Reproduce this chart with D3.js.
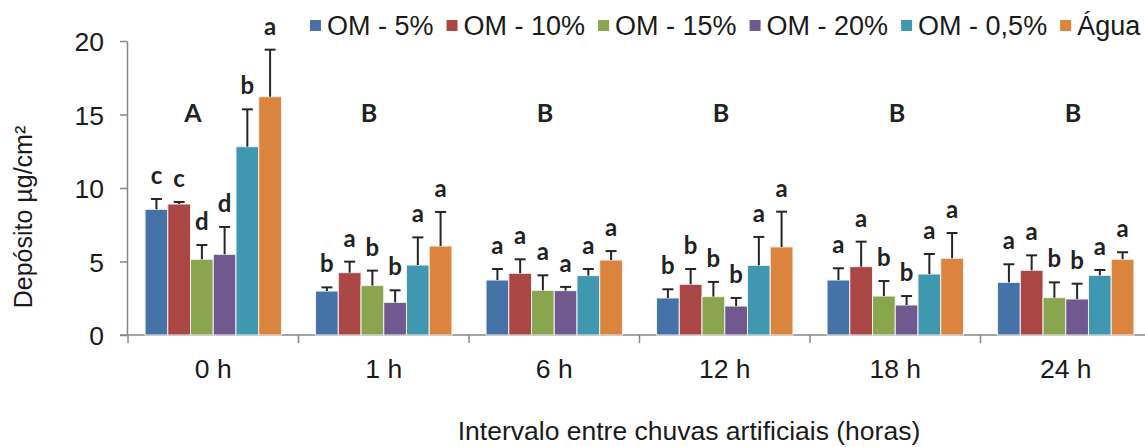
<!DOCTYPE html>
<html lang="pt">

<head>
    <meta charset="UTF-8">
    <title>Depósito por intervalo entre chuvas</title>
    <script src="https://d3js.org/d3.v7.min.js"></script>
    <style>
        html,
        body {
            margin: 0;
            padding: 0;
            background: #ffffff;
            overflow: hidden;
        }

        svg text {
            font-family: "Liberation Sans", Arial, sans-serif;
            fill: #1a1a1a;
        }

        .axis path,
        .axis line {
            stroke: #868686;
            stroke-width: 1.5;
        }

        .letter {
            font-family: Lato, "Open Sans", sans-serif !important;
            font-weight: 700;
            fill: #222222;
        }
    </style>
</head>

<body>
    <svg id="chart" width="1145" height="447"></svg>

    <script>
        const intervals = ["0 h", "1 h", "6 h", "12 h", "18 h", "24 h"];
        const series = ["OM - 5%", "OM - 10%", "OM - 15%", "OM - 20%", "OM - 0,5%", "Água"];
        const colors = ["#4572a7", "#aa4643", "#89a54e", "#71588f", "#3f98b0", "#db843d"];

        // mean deposit per interval (rows) and treatment (columns)
        const means = [
            [8.55, 8.91, 5.15, 5.49, 12.81, 16.21],
            [2.99, 4.24, 3.36, 2.22, 4.76, 6.05],
            [3.74, 4.20, 3.04, 3.02, 4.04, 5.10],
            [2.52, 3.45, 2.61, 1.97, 4.74, 5.99],
            [3.74, 4.65, 2.65, 2.04, 4.15, 5.22],
            [3.58, 4.40, 2.54, 2.45, 4.06, 5.15]
        ];
        // upper error (standard deviation)
        const errors = [
            [0.70, 0.14, 0.97, 1.86, 2.54, 3.20],
            [0.25, 0.75, 1.02, 0.82, 1.88, 2.32],
            [0.75, 0.95, 1.02, 0.25, 0.45, 0.61],
            [0.59, 1.04, 1.00, 0.55, 1.93, 2.40],
            [0.80, 1.70, 1.02, 0.61, 1.36, 1.72],
            [1.23, 1.02, 1.04, 1.04, 0.36, 0.48]
        ];
        const letters = [
            ["c", "c", "d", "d", "b", "a"],
            ["b", "a", "b", "b", "a", "a"],
            ["a", "a", "a", "a", "a", "a"],
            ["b", "b", "b", "b", "a", "a"],
            ["a", "a", "b", "b", "a", "a"],
            ["a", "a", "b", "b", "a", "a"]
        ];
        const groupLetters = ["A", "B", "B", "B", "B", "B"];
        const yTicks = [0, 5, 10, 15, 20];

        const svg = d3.select("#chart");

        const x0 = d3.scaleBand()
            .domain(intervals)
            .range([128, 1151])
            .padding(0);

        const x1 = d3.scaleBand()
            .domain(series)
            .range([0, x0.bandwidth()])
            .paddingInner(0)
            .paddingOuter(0.75);

        const y = d3.scaleLinear()
            .domain([0, 20])
            .range([335, 41]);

        const color = d3.scaleOrdinal().domain(series).range(colors);

        // the group letters were hand placed in the original, slightly wider apart than the bands
        const xGroupLetter = d3.scalePoint()
            .domain(intervals)
            .range([193, 1073]);

        // y axis
        const yAxis = svg.append("g")
            .attr("class", "axis")
            .attr("transform", "translate(127,0)")
            .call(d3.axisLeft(y).tickValues(yTicks).tickSize(7).tickSizeOuter(0).tickPadding(16));
        yAxis.selectAll("text")
            .style("font-size", "26.5px")
            .attr("dy", "0.36em");

        // x axis line + category separators
        const xAxis = svg.append("g").attr("class", "axis");
        xAxis.append("line")
            .attr("x1", 120).attr("x2", 1151)
            .attr("y1", y(0)).attr("y2", y(0));
        xAxis.selectAll(".sep")
            .data(intervals)
            .enter().append("line")
            .attr("x1", d => x0(d)).attr("x2", d => x0(d))
            .attr("y1", y(0)).attr("y2", y(0) + 8);
        xAxis.selectAll(".lab")
            .data(intervals)
            .enter().append("text")
            .attr("x", d => x0(d) + x0.bandwidth() / 2)
            .attr("y", 378)
            .attr("text-anchor", "middle")
            .style("font-size", "26.5px")
            .text(d => d);

        // bars
        const rows = intervals.map((iv, i) => series.map((s, j) => ({
            interval: iv,
            series: s,
            value: means[i][j],
            err: errors[i][j],
            letter: letters[i][j]
        })));

        const groups = svg.append("g")
            .selectAll("g")
            .data(rows)
            .enter().append("g")
            .attr("transform", (d, i) => `translate(${x0(intervals[i])},0)`);

        groups.selectAll("rect")
            .data(d => d)
            .enter().append("rect")
            .attr("x", d => x1(d.series))
            .attr("y", d => y(d.value))
            .attr("width", x1.bandwidth())
            .attr("height", d => y(0) - y(d.value))
            .attr("fill", d => color(d.series))
            .attr("stroke", "#f2f2f2")
            .attr("stroke-width", 1);

        // error bars (upper only)
        const eb = groups.selectAll(".err")
            .data(d => d)
            .enter().append("g");
        eb.append("line")
            .attr("x1", d => x1(d.series) + x1.bandwidth() / 2)
            .attr("x2", d => x1(d.series) + x1.bandwidth() / 2)
            .attr("y1", d => y(d.value))
            .attr("y2", d => y(d.value + d.err))
            .attr("stroke", "#262626")
            .attr("stroke-width", 2);
        eb.append("line")
            .attr("x1", d => x1(d.series) + x1.bandwidth() / 2 - 5.5)
            .attr("x2", d => x1(d.series) + x1.bandwidth() / 2 + 5.5)
            .attr("y1", d => y(d.value + d.err))
            .attr("y2", d => y(d.value + d.err))
            .attr("stroke", "#262626")
            .attr("stroke-width", 2);

        // significance letters
        groups.selectAll(".letter")
            .data(d => d)
            .enter().append("text")
            .attr("class", "letter")
            .attr("x", d => x1(d.series) + x1.bandwidth() / 2)
            .attr("y", d => y(d.value + d.err) - 15)
            .attr("text-anchor", "middle")
            .style("font-size", "24px")
            .text(d => d.letter);

        svg.append("g")
            .selectAll("text")
            .data(groupLetters)
            .enter().append("text")
            .attr("class", "letter")
            .attr("x", (d, i) => xGroupLetter(intervals[i]))
            .attr("y", 122)
            .attr("text-anchor", "middle")
            .style("font-size", "25px")
            .text(d => d);

        // axis titles
        svg.append("text")
            .attr("transform", "translate(32,217) rotate(-90)")
            .attr("text-anchor", "middle")
            .style("font-size", "25px")
            .text("Depósito µg/cm²");

        svg.append("text")
            .attr("x", 689)
            .attr("y", 440)
            .attr("text-anchor", "middle")
            .style("font-size", "26.5px")
            .text("Intervalo entre chuvas artificiais (horas)");

        // legend
        const legend = svg.append("g");
        let lx = 310;
        series.forEach((s, i) => {
            legend.append("rect")
                .attr("x", lx).attr("y", 20)
                .attr("width", 11).attr("height", 11)
                .attr("fill", colors[i]);
            const t = legend.append("text")
                .attr("x", lx + 17)
                .attr("y", 35)
                .style("font-size", "27px")
                .text(s);
            lx += 17 + t.node().getComputedTextLength() + 13;
        });
    </script>
</body>

</html>
